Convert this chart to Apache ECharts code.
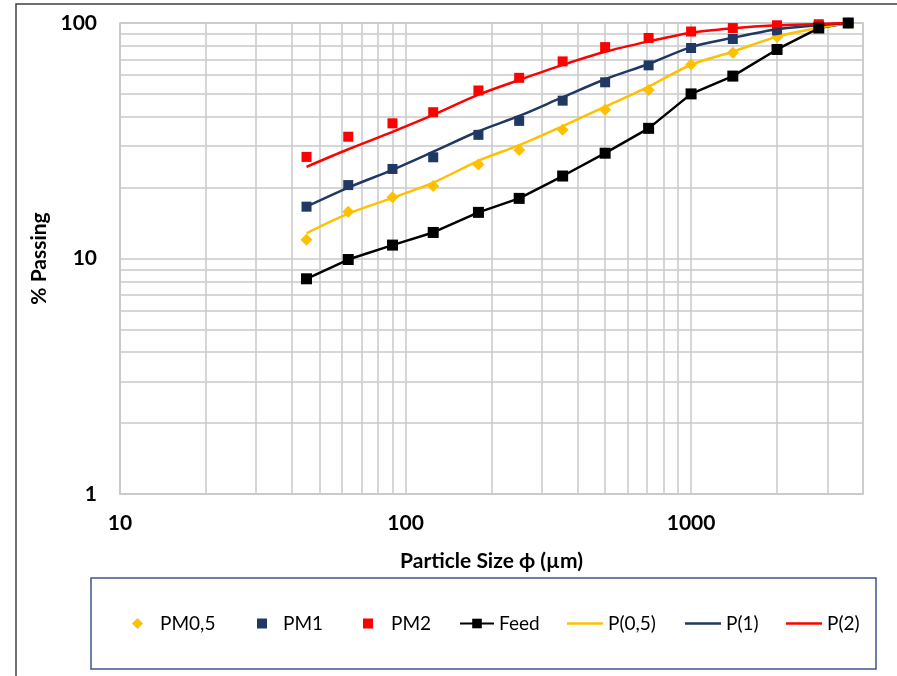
<!DOCTYPE html>
<html>
<head>
<meta charset="utf-8">
<script src="https://cdn.jsdelivr.net/npm/echarts@6/dist/echarts.min.js"></script>
<style>
  html, body { margin: 0; padding: 0; background: #fff; }
  #chart { width: 897px; height: 676px; }
</style>
</head>
<body>
<div id="chart"></div>
<script>
// sieve sizes (µm) and % passing
const sizes = [45, 63, 90, 125, 180, 250, 355, 500, 710, 1000, 1400, 2000, 2800, 3550]
const pm05 = [12.0, 15.8, 18.2, 20.3, 25.1, 28.9, 35.2, 42.8, 51.9, 66.6, 74.8, 87.2, 96.5, 100]
const pm1 = [16.6, 20.5, 24.0, 26.9, 33.5, 38.4, 46.8, 56.0, 66.1, 78.3, 85.5, 93.0, 97.5, 100]
const pm2 = [27.0, 32.9, 37.5, 41.8, 51.7, 58.5, 68.7, 79.0, 86.4, 92.0, 95.2, 97.8, 98.8, 100]
const feed = [8.2, 9.9, 11.4, 12.9, 15.7, 18.0, 22.4, 28.0, 35.7, 50.0, 59.5, 77.2, 95.2, 100]
// fitted curves
const fit05 = [12.8, 15.5, 18.1, 21.0, 26.0, 30.3, 36.5, 44.1, 53.7, 66.5, 75.5, 87.5, 95.5, 100]
const fit1 = [16.6, 20.0, 23.8, 28.4, 34.7, 40.3, 48.4, 57.7, 67.0, 79.0, 86.5, 94.0, 97.8, 100]
const fit2 = [24.5, 29.1, 34.5, 40.7, 49.6, 57.3, 66.4, 75.5, 83.5, 91.0, 95.0, 97.8, 99.0, 100]

// minor grid values of the log axes
const xMinor = [20, 30, 40, 50, 60, 70, 80, 90, 200, 300, 400, 500, 600, 700, 800, 900, 2000, 3000]
const yMinor = [2, 3, 4, 5, 6, 7, 8, 9, 20, 30, 40, 50, 60, 70, 80, 90]

const pairs = (ys) => sizes.map((x, i) => [x, ys[i]])

const GRID_COLOR = '#c9c9c9'
const FONT = 'Lato'
const LINE_ICON = 'path://M0,0L36,0L36,2.5L0,2.5Z'

const chart = echarts.init(document.getElementById('chart'))

// one legend per entry so each sits where the original has it
const legendLayout = [
  { name: 'PM0,5', left: 132, w: 11, h: 11, pad: 12 },
  { name: 'PM1', left: 257, w: 10, h: 10, pad: 11 },
  { name: 'PM2', left: 363, w: 10, h: 10, pad: 13 },
  { name: 'Feed', left: 459, w: 34, h: 12, pad: 0 },
  { name: 'P(0,5)', left: 567, w: 36, h: 12, pad: 0, line: true },
  { name: 'P(1)', left: 685, w: 36, h: 12, pad: 0, line: true },
  { name: 'P(2)', left: 786, w: 36, h: 12, pad: 0, line: true }
]

const legends = legendLayout.map((l) => ({
  data: [l.line ? { name: l.name, icon: LINE_ICON } : l.name],
  left: l.left,
  top: 614,
  padding: 0,
  itemWidth: l.w,
  itemHeight: l.h,
  selectedMode: false,
  textStyle: { fontFamily: FONT, fontSize: 19, color: '#000', padding: [0, 0, 0, l.pad] }
}))

const option = {
  animation: false,
  backgroundColor: '#fff',
  grid: {
    left: 120,
    top: 23,
    right: 34,
    bottom: 182,
    show: true,
    borderColor: GRID_COLOR,
    borderWidth: 1.5
  },
  legend: legends,
  xAxis: {
    type: 'log',
    logBase: 10,
    min: 10,
    max: 4000,
    name: 'Particle Size ϕ (µm)',
    nameLocation: 'middle',
    nameGap: 57,
    nameTextStyle: { fontFamily: FONT, fontWeight: 'bold', fontSize: 21, color: '#000' },
    axisLine: { show: true, lineStyle: { color: GRID_COLOR, width: 1.5 } },
    axisTick: { show: false },
    axisLabel: {
      showMaxLabel: false,
      margin: 19,
      fontFamily: FONT,
      fontWeight: 'bold',
      fontSize: 21,
      color: '#000',
      formatter: (v) => String(Math.round(v))
    },
    splitLine: { show: true, lineStyle: { color: GRID_COLOR, width: 1.5 } }
  },
  yAxis: {
    type: 'log',
    logBase: 10,
    min: 1,
    max: 100,
    name: '% Passing',
    nameLocation: 'middle',
    nameGap: 68,
    nameTextStyle: { fontFamily: FONT, fontWeight: 'bold', fontSize: 21, color: '#000' },
    axisLine: { show: true, lineStyle: { color: GRID_COLOR, width: 1.5 } },
    axisTick: { show: false },
    axisLabel: {
      margin: 23,
      fontFamily: FONT,
      fontWeight: 'bold',
      fontSize: 21,
      color: '#000',
      formatter: (v) => String(Math.round(v))
    },
    splitLine: { show: true, lineStyle: { color: GRID_COLOR, width: 1.5 } }
  },
  series: [
    {
      // minor grid lines
      name: 'grid',
      type: 'line',
      data: [],
      z: 0,
      silent: true,
      markLine: {
        z: 0,
        silent: true,
        symbol: ['none', 'none'],
        label: { show: false },
        lineStyle: { color: GRID_COLOR, width: 1.5, type: 'solid' },
        emphasis: { disabled: true },
        data: xMinor.map((v) => ({ xAxis: v })).concat(yMinor.map((v) => ({ yAxis: v })))
      }
    },
    {
      name: 'PM0,5',
      type: 'scatter',
      data: pairs(pm05),
      symbol: 'diamond',
      symbolSize: 12,
      itemStyle: { color: '#ffc000', opacity: 1 },
      z: 3
    },
    {
      name: 'PM1',
      type: 'scatter',
      data: pairs(pm1),
      symbol: 'rect',
      symbolSize: 10,
      itemStyle: { color: '#1f3864', opacity: 1 },
      z: 3
    },
    {
      name: 'PM2',
      type: 'scatter',
      data: pairs(pm2),
      symbol: 'rect',
      symbolSize: 10,
      itemStyle: { color: '#ff0000', opacity: 1 },
      z: 3
    },
    {
      name: 'Feed',
      type: 'line',
      data: pairs(feed),
      symbol: 'rect',
      symbolSize: 11,
      showSymbol: true,
      itemStyle: { color: '#000' },
      lineStyle: { color: '#000', width: 2.5 },
      z: 4
    },
    {
      name: 'P(0,5)',
      type: 'line',
      data: pairs(fit05),
      symbol: 'none',
      smooth: 0.3,
      itemStyle: { color: '#ffc000' },
      lineStyle: { color: '#ffc000', width: 2.5 },
      z: 4
    },
    {
      name: 'P(1)',
      type: 'line',
      data: pairs(fit1),
      symbol: 'none',
      smooth: 0.3,
      itemStyle: { color: '#1f3864' },
      lineStyle: { color: '#1f3864', width: 2.5 },
      z: 4
    },
    {
      name: 'P(2)',
      type: 'line',
      data: pairs(fit2),
      symbol: 'none',
      smooth: 0.3,
      itemStyle: { color: '#ff0000' },
      lineStyle: { color: '#ff0000', width: 2.5 },
      z: 4
    }
  ],
  graphic: [
    {
      // outer chart frame (runs off the right and bottom edges)
      type: 'rect',
      shape: { x: 16, y: 4, width: 900, height: 700 },
      style: { fill: 'none', stroke: '#404040', lineWidth: 1.5 },
      silent: true
    },
    {
      // legend box
      type: 'rect',
      shape: { x: 91, y: 578, width: 785, height: 91 },
      style: { fill: 'none', stroke: '#3c5688', lineWidth: 1.5 },
      silent: true
    }
  ]
}

chart.setOption(option)
</script>
</body>
</html>
